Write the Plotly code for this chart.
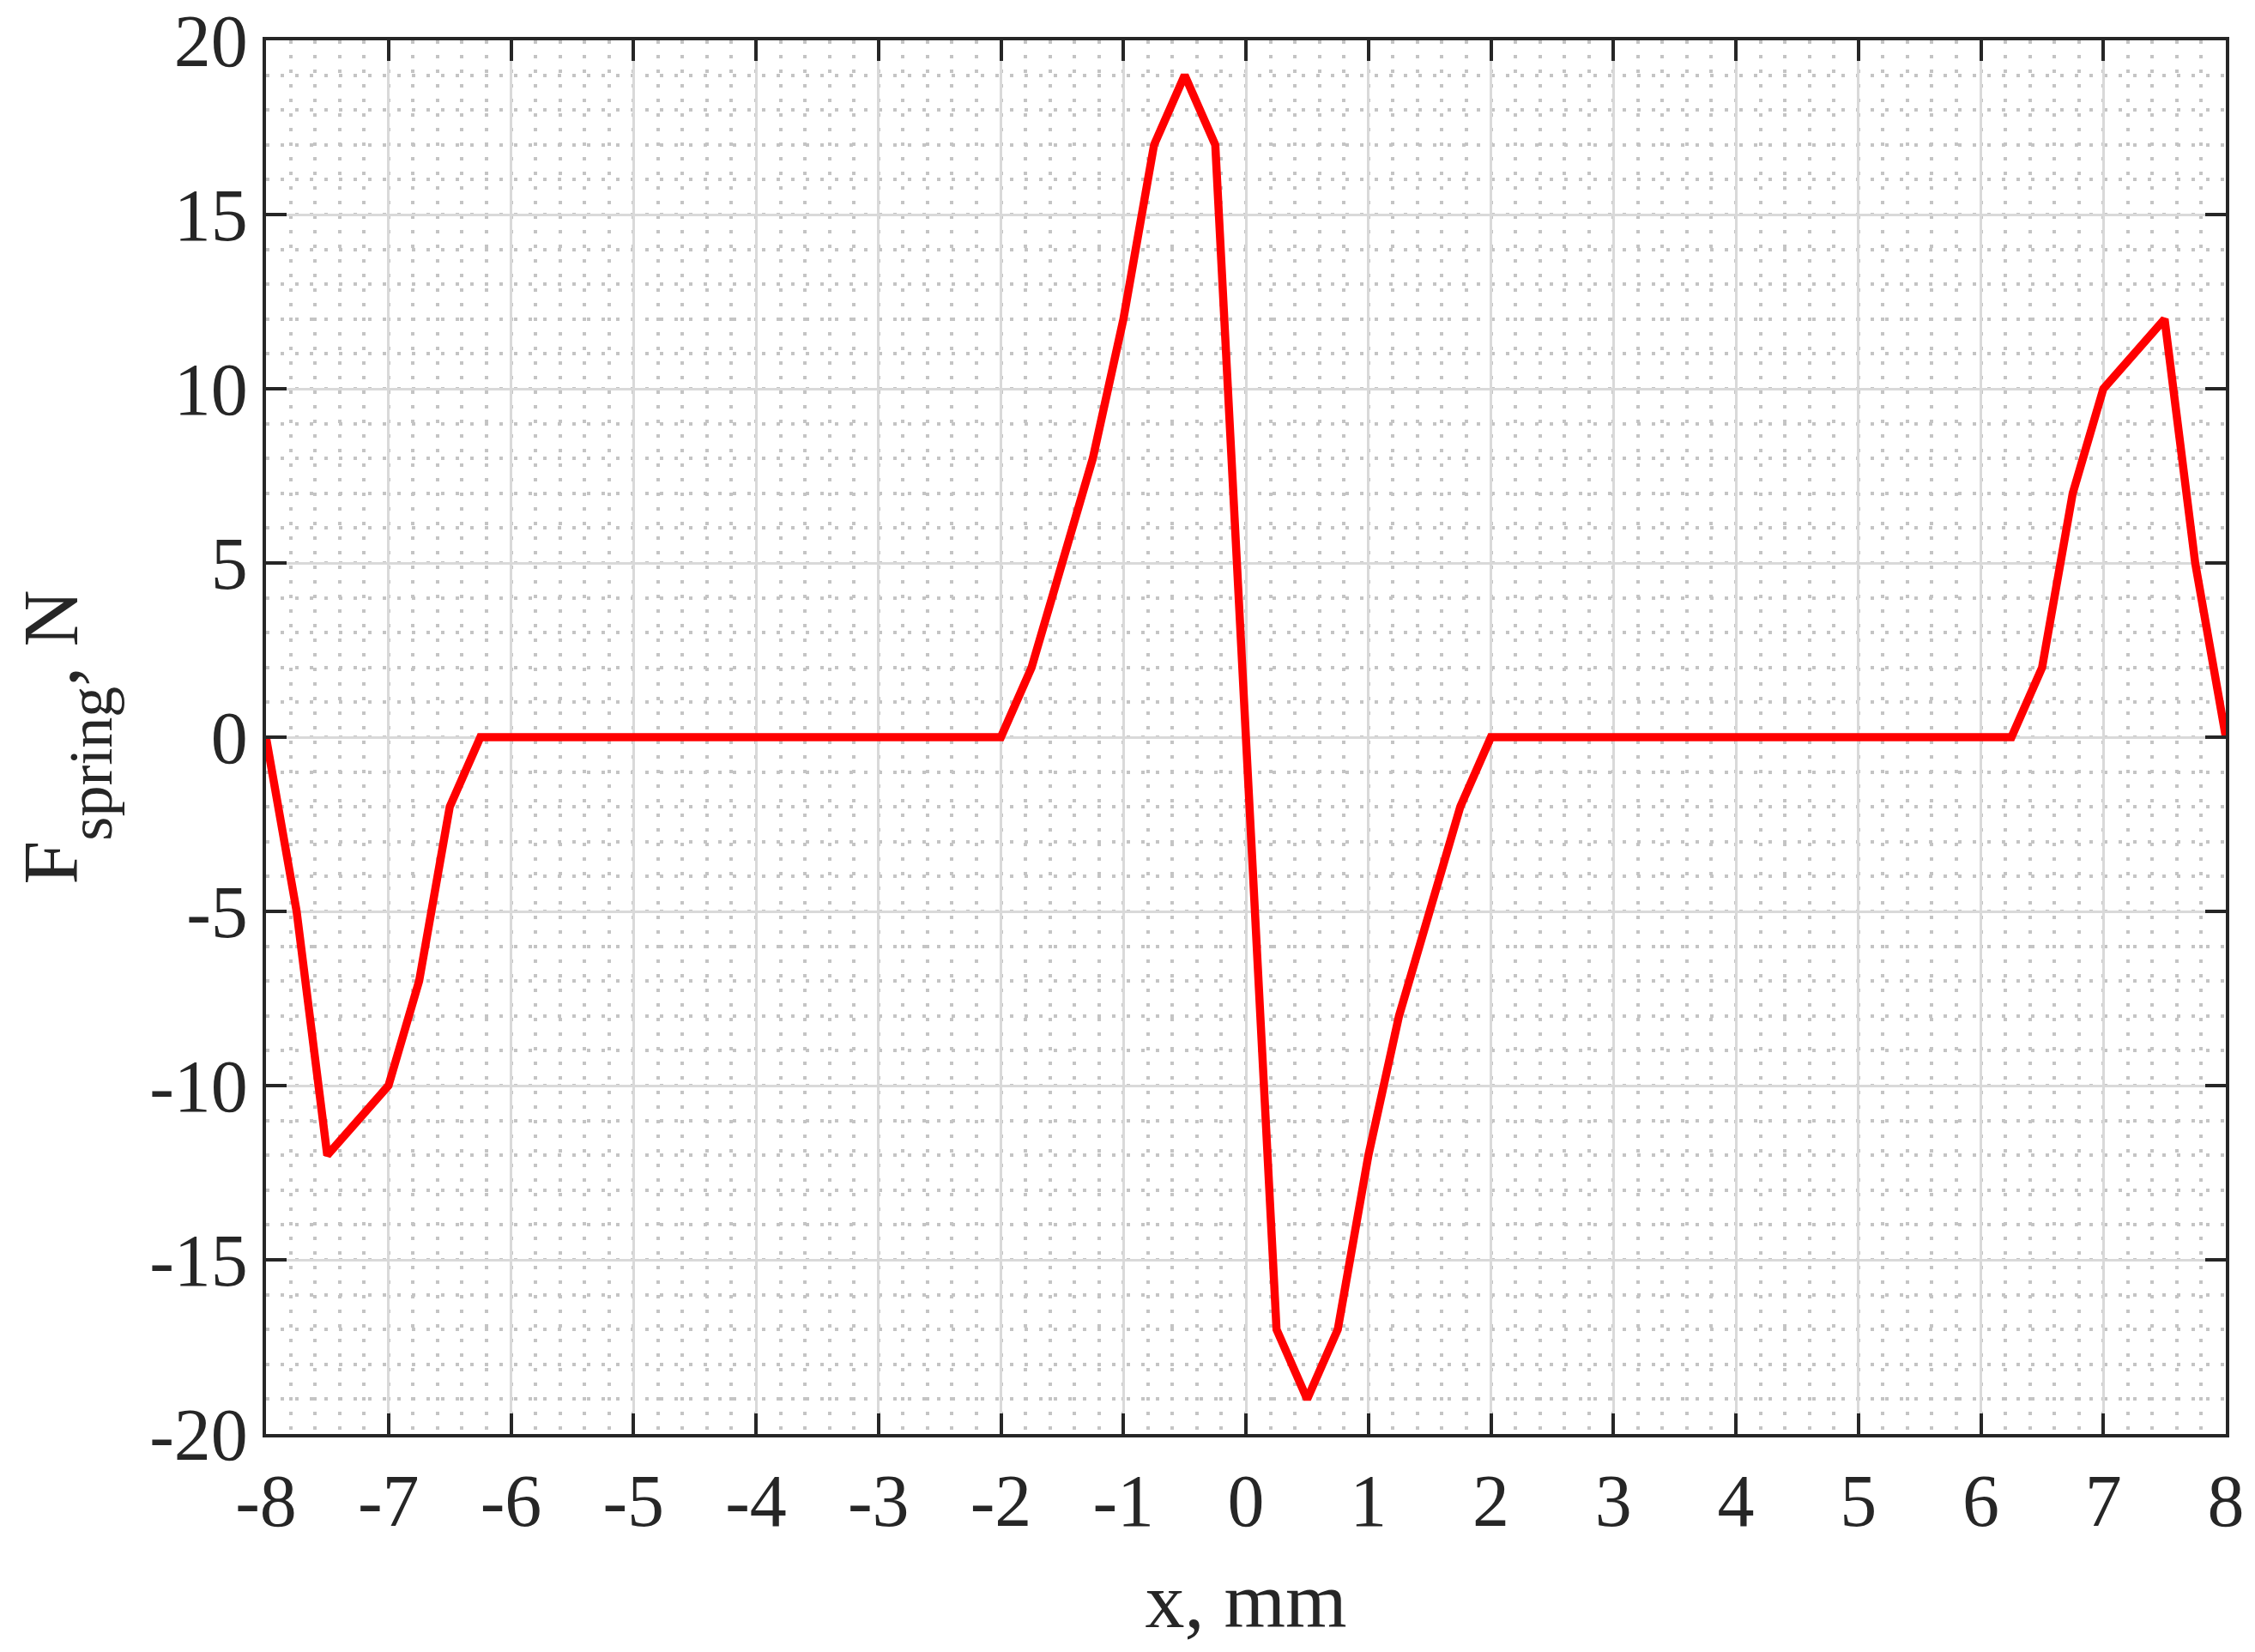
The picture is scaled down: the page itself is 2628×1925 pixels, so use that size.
import plotly.graph_objects as go

# Data (step 0.25 mm)
x_mm = [-8.0, -7.75, -7.5, -7.25, -7.0, -6.75, -6.5, -6.25, -6.0, -5.75, -5.5, -5.25,
        -5.0, -4.75, -4.5, -4.25, -4.0, -3.75, -3.5, -3.25, -3.0, -2.75, -2.5, -2.25,
        -2.0, -1.75, -1.5, -1.25, -1.0, -0.75, -0.5, -0.25, 0.0, 0.25, 0.5, 0.75,
        1.0, 1.25, 1.5, 1.75, 2.0, 2.25, 2.5, 2.75, 3.0, 3.25, 3.5, 3.75,
        4.0, 4.25, 4.5, 4.75, 5.0, 5.25, 5.5, 5.75, 6.0, 6.25, 6.5, 6.75,
        7.0, 7.25, 7.5, 7.75, 8.0]
f_spring = [0, -5, -12, -11, -10, -7, -2, 0, 0, 0, 0, 0,
            0, 0, 0, 0, 0, 0, 0, 0, 0, 0, 0, 0,
            0, 2, 5, 8, 12, 17, 19, 17, 0, -17, -19, -17,
            -12, -8, -5, -2, 0, 0, 0, 0, 0, 0, 0, 0,
            0, 0, 0, 0, 0, 0, 0, 0, 0, 0, 2, 7,
            10, 11, 12, 5, 0]

x_tick_vals = [-8, -7, -6, -5, -4, -3, -2, -1, 0, 1, 2, 3, 4, 5, 6, 7, 8]
x_tick_labels = ["-8", "-7", "-6", "-5", "-4", "-3", "-2", "-1", "0", "1", "2", "3", "4", "5", "6", "7", "8"]
y_tick_vals = [-20, -15, -10, -5, 0, 5, 10, 15, 20]
y_tick_labels = ["-20", "-15", "-10", "-5", "0", "5", "10", "15", "20"]

FONT = "Liberation Serif"
AX = "#262626"

fig = go.Figure()
fig.add_trace(go.Scatter(x=x_mm, y=f_spring, mode="lines",
                         line=dict(color="#ff0000", width=9.5), showlegend=False))

common = dict(
    showline=True, linecolor=AX, linewidth=4, mirror="ticks",
    ticks="inside", ticklen=24, tickwidth=3.5, tickcolor=AX,
    showgrid=True, gridcolor="#d9d9d9", gridwidth=3,
    zeroline=False, ticklabeloverflow="allow",
    tickfont=dict(family=FONT, size=86, color=AX),
)

fig.update_xaxes(
    range=[-8, 8], tickmode="array", tickvals=x_tick_vals, ticktext=x_tick_labels,
    minor=dict(dtick=0.2, tick0=0, showgrid=True, gridcolor="#c4c4c4", gridwidth=4,
               griddash="4px,13px", ticks=""),
    title=dict(text="x, mm", font=dict(family=FONT, size=92, color=AX), standoff=36),
    **common,
)
fig.update_yaxes(
    range=[-20, 20], tickmode="array", tickvals=y_tick_vals, ticktext=y_tick_labels,
    minor=dict(dtick=1, tick0=0, showgrid=True, gridcolor="#c4c4c4", gridwidth=4,
               griddash="4px,13px", ticks=""),
    title=dict(text='F<span style="font-size:72px;baseline-shift:-40px">spring</span>, N',
               font=dict(family=FONT, size=92, color=AX), standoff=60),
    **common,
)

fig.update_layout(
    width=2628, height=1925, autosize=False,
    margin=dict(l=302, r=42, t=39, b=262, autoexpand=False),
    plot_bgcolor="white", paper_bgcolor="white",
)

fig.write_html("out.html")
